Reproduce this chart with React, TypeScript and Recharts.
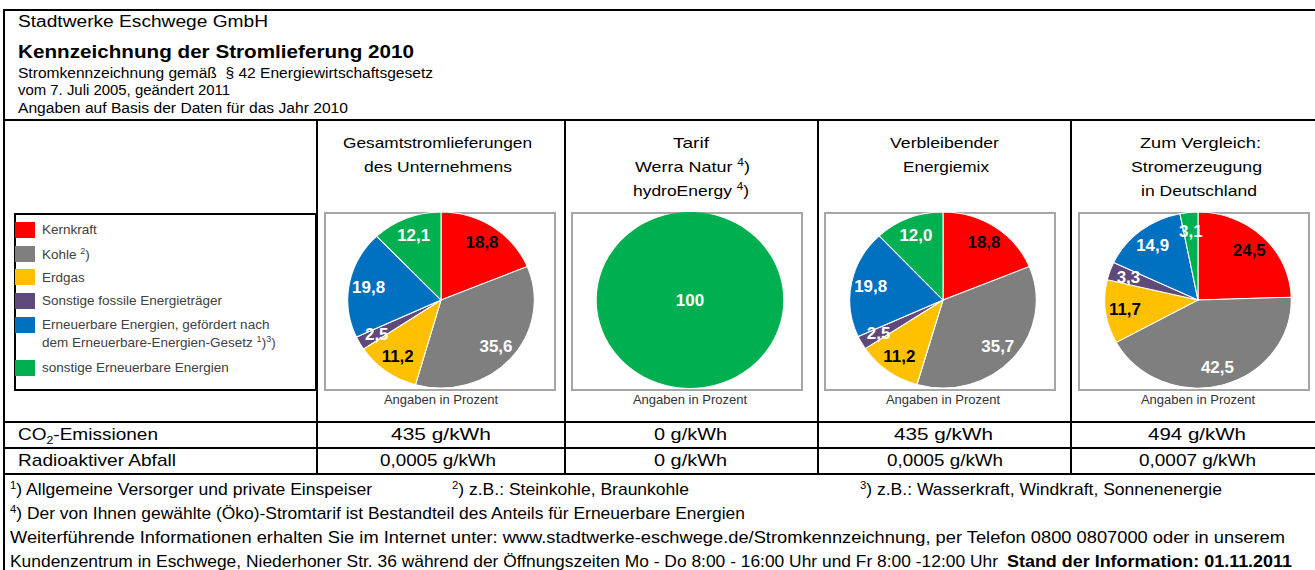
import React from 'react';
import { PieChart, Pie, Cell } from 'recharts';

const FONT = '"Liberation Sans", Arial, sans-serif';

// Energieträger in der Reihenfolge der Tortenstücke (ab 12 Uhr im Uhrzeigersinn)
const categories = [
  'Kernkraft',
  'Kohle',
  'Erdgas',
  'Sonstige fossile Energieträger',
  'Erneuerbare Energien, gefördert nach dem EEG',
  'sonstige Erneuerbare Energien',
];
const COLORS = ['#FF0000', '#7F7F7F', '#FFC000', '#5F497A', '#0070C0', '#00B050'];
const LABEL_COLORS = ['#000', '#fff', '#000', '#fff', '#fff', '#fff'];

const gesamt = [18.8, 35.6, 11.2, 2.5, 19.8, 12.1];
const tarif = [0, 0, 0, 0, 0, 100];
const verbleibend = [18.8, 35.7, 11.2, 2.5, 19.8, 12.0];
const deutschland = [24.5, 42.5, 11.7, 3.3, 14.9, 3.1];

const co2 = ['435 g/kWh', '0 g/kWh', '435 g/kWh', '494 g/kWh'];
const abfall = ['0,0005 g/kWh', '0 g/kWh', '0,0005 g/kWh', '0,0007 g/kWh'];

const fmt = (v: number) => (v === 100 ? '100' : v.toFixed(1).replace('.', ','));

function MixPie({ values, boxLeft, center }: { values: number[]; boxLeft: number; center: number }) {
  const data = values
    .map((v, i) => ({ name: categories[i], value: v, idx: i }))
    .filter(d => d.value > 0);
  const cx = center - boxLeft;

  const renderLabel = (p: any) => {
    const d = data[p.index];
    const RAD = Math.PI / 180;
    const r = p.percent >= 0.999 ? 0 : p.outerRadius * 0.79;
    const x = p.cx + r * Math.cos(-p.midAngle * RAD);
    const y = p.cy + r * Math.sin(-p.midAngle * RAD);
    return (
      <text x={x} y={y} fill={LABEL_COLORS[d.idx]} textAnchor="middle" dominantBaseline="central"
        fontSize={16} fontWeight="bold" fontFamily={FONT}>
        {fmt(d.value)}
      </text>
    );
  };

  return (
    <div style={{ position: 'absolute', left: boxLeft, top: 212, width: 233, height: 178,
      transform: 'scaleX(1.06)', transformOrigin: `${cx}px 50%` }}>
      <PieChart width={233} height={178} margin={{ top: 0, right: 0, bottom: 0, left: 0 }}>
        <Pie data={data} dataKey="value" cx={cx} cy={88} outerRadius={88} startAngle={90} endAngle={-270}
          stroke="#fff" strokeWidth={data.length > 1 ? 1 : 0} label={renderLabel} labelLine={false}
          isAnimationActive={false}>
          {data.map(d => (
            <Cell key={d.idx} fill={COLORS[d.idx]} />
          ))}
        </Pie>
      </PieChart>
    </div>
  );
}

function T({ x, y, w, size, bold, fill, children }: any) {
  return (
    <text x={x} y={y} fontSize={size} fontWeight={bold ? 'bold' : 'normal'} fill={fill || '#000'}
      textLength={w} lengthAdjust="spacingAndGlyphs" style={{ whiteSpace: 'pre' }}>
      {children}
    </text>
  );
}

const Sup = ({ n }: { n: string }) => (
  <>
    <tspan dy={-6} fontSize={10}>{n}</tspan>
    <tspan dy={6}>)</tspan>
  </>
);

export default function App() {
  const pieBoxes = [325, 572, 825, 1079];
  const centers = [441, 690, 943, 1198];
  const co2Pos = [[391, 100], [654, 73], [894, 99], [1148, 98]];
  const abfPos = [[380, 116], [654, 73], [887, 116], [1139, 117]];
  const legendRows = [222, 246, 269, 293, 317, 360];

  return (
    <div style={{ position: 'absolute', left: 0, top: 0, width: 1315, height: 570, background: '#fff', overflow: 'hidden' }}>
      <svg width={1315} height={570} style={{ position: 'absolute', left: 0, top: 0 }} fontFamily={FONT}>
        {/* Rahmen und Tabellenlinien */}
        <rect x={3} y={9} width={1312} height={2} fill="#000" />
        <rect x={3} y={9} width={2} height={561} fill="#000" />
        <rect x={3} y={119} width={1312} height={2} fill="#000" />
        {[316, 564, 817, 1070].map(x => (
          <rect key={x} x={x} y={119} width={2} height={356} fill="#000" />
        ))}
        {[421, 447, 473].map(y => (
          <rect key={y} x={3} y={y} width={1312} height={2} fill="#000" />
        ))}
        <rect x={15} y={214} width={301} height={176} fill="none" stroke="#000" strokeWidth={2} />
        {pieBoxes.map(x => (
          <rect key={x} x={x} y={213} width={230} height={177} fill="none" stroke="#A6A6A6" strokeWidth={2} />
        ))}

        {/* Kopf */}
        <T x={18} y={27} w={250} size={16}>Stadtwerke Eschwege GmbH</T>
        <T x={18} y={58} w={396} size={18} bold>Kennzeichnung der Stromlieferung 2010</T>
        <T x={18} y={78} w={415} size={14}>Stromkennzeichnung gemäß  § 42 Energiewirtschaftsgesetz</T>
        <T x={18} y={95} w={212} size={14}>vom 7. Juli 2005, geändert 2011</T>
        <T x={18} y={113} w={330} size={14}>Angaben auf Basis der Daten für das Jahr 2010</T>

        {/* Spaltenköpfe */}
        <T x={343} y={148} w={189} size={15}>Gesamtstromlieferungen</T>
        <T x={364} y={172} w={148} size={15}>des Unternehmens</T>
        <T x={673} y={148} w={36} size={15}>Tarif</T>
        <T x={635} y={172} w={115} size={15}>Werra Natur <Sup n="4" /></T>
        <T x={633} y={196} w={116} size={15}>hydroEnergy <Sup n="4" /></T>
        <T x={890} y={148} w={109} size={15}>Verbleibender</T>
        <T x={903} y={172} w={86} size={15}>Energiemix</T>
        <T x={1140} y={148} w={121} size={15}>Zum Vergleich:</T>
        <T x={1131} y={172} w={131} size={15}>Stromerzeugung</T>
        <T x={1141} y={196} w={116} size={15}>in Deutschland</T>

        {/* Legende */}
        {legendRows.map((sy, i) => (
          <rect key={i} x={15} y={sy} width={20} height={16} fill={COLORS[i]} />
        ))}
        <g fill="#404040" fontSize={13.5}>
          <text x={42} y={234}>Kernkraft</text>
          <text x={42} y={259}>Kohle <tspan dy={-5} fontSize={9}>2</tspan><tspan dy={5}>)</tspan></text>
          <text x={42} y={282}>Erdgas</text>
          <text x={42} y={305}>Sonstige fossile Energieträger</text>
          <text x={42} y={329}>Erneuerbare Energien, gefördert nach</text>
          <text x={42} y={347}>dem Erneuerbare-Energien-Gesetz <tspan dy={-5} fontSize={9}>1</tspan><tspan dy={5}>)</tspan><tspan dy={-5} fontSize={9}>3</tspan><tspan dy={5}>)</tspan></text>
          <text x={42} y={372}>sonstige Erneuerbare Energien</text>
        </g>

        {centers.map(c => (
          <text key={c} x={c} y={404} fontSize={13} fill="#333" textAnchor="middle">Angaben in Prozent</text>
        ))}

        {/* Emissionen */}
        <T x={18} y={440} w={140} size={17}>CO<tspan dy={4} fontSize={11}>2</tspan><tspan dy={-4}>-Emissionen</tspan></T>
        <T x={18} y={466} w={158} size={17}>Radioaktiver Abfall</T>
        {co2.map((s, i) => (
          <T key={'c' + i} x={co2Pos[i][0]} y={440} w={co2Pos[i][1]} size={17}>{s}</T>
        ))}
        {abfall.map((s, i) => (
          <T key={'a' + i} x={abfPos[i][0]} y={466} w={abfPos[i][1]} size={17}>{s}</T>
        ))}

        {/* Fußnoten */}
        <T x={10} y={495} w={362} size={17}><tspan dy={-6} fontSize={11}>1</tspan><tspan dy={6}>) Allgemeine Versorger und private Einspeiser</tspan></T>
        <T x={452} y={495} w={237} size={17}><tspan dy={-6} fontSize={11}>2</tspan><tspan dy={6}>) z.B.: Steinkohle, Braunkohle</tspan></T>
        <T x={860} y={495} w={362} size={17}><tspan dy={-6} fontSize={11}>3</tspan><tspan dy={6}>) z.B.: Wasserkraft, Windkraft, Sonnenenergie</tspan></T>
        <T x={10} y={519} w={735} size={17}><tspan dy={-6} fontSize={11}>4</tspan><tspan dy={6}>) Der von Ihnen gewählte (Öko)-Stromtarif ist Bestandteil des Anteils für Erneuerbare Energien</tspan></T>
        <T x={10} y={543} w={1275} size={17}>Weiterführende Informationen erhalten Sie im Internet unter: www.stadtwerke-eschwege.de/Stromkennzeichnung, per Telefon 0800 0807000 oder in unserem</T>
        <T x={10} y={567} w={988} size={17}>Kundenzentrum in Eschwege, Niederhoner Str. 36 während der Öffnungszeiten Mo - Do 8:00 - 16:00 Uhr und Fr 8:00 -12:00 Uhr</T>
        <T x={1007} y={567} w={285} size={17} bold>Stand der Information: 01.11.2011</T>
      </svg>

      <MixPie values={gesamt} boxLeft={pieBoxes[0]} center={centers[0]} />
      <MixPie values={tarif} boxLeft={pieBoxes[1]} center={centers[1]} />
      <MixPie values={verbleibend} boxLeft={pieBoxes[2]} center={centers[2]} />
      <MixPie values={deutschland} boxLeft={pieBoxes[3]} center={centers[3]} />
    </div>
  );
}
